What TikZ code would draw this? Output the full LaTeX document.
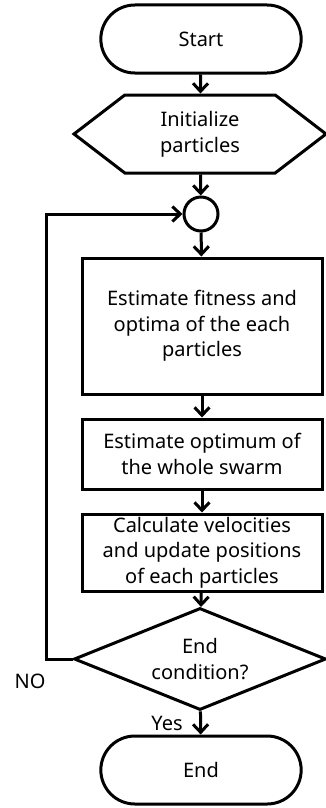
\documentclass[tikz,border=0pt]{standalone}
\usepackage{fontspec}
\setmainfont{Noto Sans}
\usetikzlibrary{arrows.meta,shapes.misc,shapes.geometric,shapes.symbols}

\begin{document}
\begin{tikzpicture}[x=1pt,y=-1pt,line width=3pt,
    font=\fontsize{20}{25.7}\selectfont,
    arr/.style={-{Straight Barb[length=8pt,width=15pt,line width=3pt]}},
    term/.style={draw,rounded rectangle,minimum width=207pt,minimum height=68pt},
    prep/.style={draw,signal,signal to=west and east,signal pointer angle=75,
      minimum width=252pt,minimum height=78pt,inner sep=0pt,align=center},
    proc/.style={draw,rectangle,minimum width=240pt,inner sep=0pt,align=center},
    test/.style={draw,diamond,aspect=2.47,minimum width=252pt,minimum height=102pt,inner sep=0pt,align=center}]
  \useasboundingbox (0,0) rectangle (326,808);
  % flow
  \node[term] (start) at (201,39) {Start};
  \node[prep] (init) at (200,134) {Initialize\\particles};
  \node[draw,circle,minimum size=34pt,inner sep=0pt] (join) at (201,214) {};
  \node[proc,minimum height=136pt] (fit) at (202,326) {Estimate fitness and\\optima of the each\\particles};
  \node[proc,minimum height=70pt] (best) at (202,454) {Estimate optimum of\\the whole swarm};
  \node[proc,minimum height=77pt] (move) at (202,552.5) {Calculate velocities\\and update positions\\of each particles};
  \node[test] (cond) at (200,659) {End\\condition?};
  \node[term] (stop) at (201,770) {End};
  \coordinate (back) at (46,659);
  \node (no) at (30,681) {NO};
  \node (yes) at (167,723) {Yes};
  % arrows
  \draw[arr] (start) -- (init);
  \draw[arr] (init) -- (join);
  \draw[arr] (join) -- (fit);
  \draw[arr] (fit) -- (best);
  \draw[arr] (best) -- (move);
  \draw[arr] (move) -- (cond);
  \draw[arr] (cond) -- (stop);
  \draw[arr] (cond.west) -- (back) |- (join.west);
\end{tikzpicture}
\end{document}
